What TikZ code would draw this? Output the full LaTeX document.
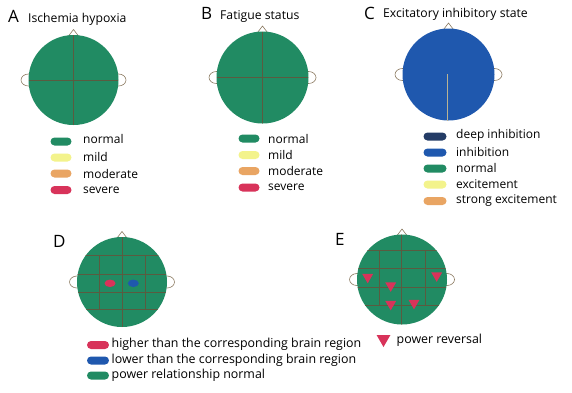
\documentclass[tikz,border=0pt]{standalone}
\usepackage{fontspec}
\setmainfont{Open Sans}
\usetikzlibrary{shapes.geometric}
\definecolor{hgreen}{HTML}{218B63}
\definecolor{hblue}{HTML}{1F58AE}
\definecolor{dblue}{HTML}{243C66}
\definecolor{lyellow}{HTML}{F3F38C}
\definecolor{orng}{HTML}{E9A563}
\definecolor{crim}{HTML}{D8335A}
\definecolor{gline}{HTML}{5A5B40}
\definecolor{outl}{HTML}{8C7B62}
\definecolor{cline}{HTML}{B9B394}
\tikzset{
  earst/.style={draw=outl, fill=white, line width=0.6pt},
  gridst/.style={draw=gline, line width=0.65pt},
  pill/.style={rectangle, rounded corners=4pt, minimum width=21pt, minimum height=8pt, inner sep=0pt},
  legtext/.style={anchor=west, inner sep=0pt, font=\fontsize{12}{14}\selectfont},
  legtextD/.style={anchor=west, inner sep=0pt, font=\fontsize{12.4}{15}\selectfont},
  letter/.style={anchor=base west, inner sep=0pt, font=\fontsize{17}{19}\selectfont},
  title/.style={anchor=base west, inner sep=0pt, font=\fontsize{12.2}{15}\selectfont},
  tri/.style={isosceles triangle, shape border rotate=-90, isosceles triangle apex angle=60, fill=crim, inner sep=0pt, minimum width=10.5pt, minimum height=9.5pt},
}
\newcommand\headbase[4]{% cx cy r colour
  \draw[earst] ({#1-#3},#2) ellipse [x radius=7.5pt, y radius=6pt];
  \draw[earst] ({#1+#3},#2) ellipse [x radius=7.5pt, y radius=6pt];
  \draw[earst] ({#1-6.5},{#2-#3+3}) -- ({#1},{#2-#3-5.5}) -- ({#1+6.5},{#2-#3+3}) -- cycle;
  \fill[#4] (#1,#2) circle [radius=#3pt];
}
\begin{document}
\begin{tikzpicture}[x=1pt,y=-1pt]
\useasboundingbox (0,0) rectangle (572,392);
\fill[white] (0,0) rectangle (572,392);

% ---------- A ----------
\node[letter] (la) at (8,22) {A};
\node[title] (ta) at (28,22) {Ischemia hypoxia};
\headbase{73.5}{80}{45}{hgreen}
\begin{scope}
  \clip (73.5,80) circle [radius=45pt];
  \draw[gridst] (73.5,35) -- (73.5,125);
  \draw[gridst] (28.5,80) -- (118.5,80);
\end{scope}
\node[pill, fill=hgreen] (a1) at (61,141.5) {};
\node[pill, fill=lyellow] (a2) at (61,157.5) {};
\node[pill, fill=orng] (a3) at (61,173.5) {};
\node[pill, fill=crim] (a4) at (61,190) {};
\node[legtext] at (83,139) {normal};
\node[legtext] at (83,157) {mild};
\node[legtext] at (83,174) {moderate};
\node[legtext] at (83,190) {severe};

% ---------- B ----------
\node[letter] (lb) at (201,19.5) {B};
\node[title] (tb) at (220,19.5) {Fatigue status};
\headbase{262.5}{77.5}{46}{hgreen}
\begin{scope}
  \clip (262.5,77.5) circle [radius=46pt];
  \draw[gridst] (262.5,31.5) -- (262.5,123.5);
  \draw[gridst] (216.5,77.5) -- (308.5,77.5);
\end{scope}
\node[pill, fill=hgreen] (b1) at (249,138.5) {};
\node[pill, fill=lyellow] (b2) at (249,155) {};
\node[pill, fill=orng] (b3) at (249,171) {};
\node[pill, fill=crim] (b4) at (249,187.5) {};
\node[legtext] at (268,138.5) {normal};
\node[legtext] at (268,155) {mild};
\node[legtext] at (268,171) {moderate};
\node[legtext] at (268,187) {severe};

% ---------- C ----------
\node[letter] (lc) at (364,19) {C};
\node[title] (tc) at (383,17) {Excitatory inhibitory state};
\headbase{448.5}{74.5}{46}{hblue}
\draw[cline, line width=0.5pt] (447,74) -- (447,120.5);
\node[pill, fill=dblue, minimum width=23pt] (c1) at (435,136.5) {};
\node[pill, fill=hblue, minimum width=23pt] (c2) at (435,152.5) {};
\node[pill, fill=hgreen, minimum width=23pt] (c3) at (435,168.5) {};
\node[pill, fill=lyellow, minimum width=23pt] (c4) at (435,184.5) {};
\node[pill, fill=orng, minimum width=23pt] (c5) at (435,201) {};
\node[legtext] at (456,135.5) {deep inhibition};
\node[legtext] at (456,152) {inhibition};
\node[legtext] at (456,168) {normal};
\node[legtext] at (456,184) {excitement};
\node[legtext] at (456,201) {strong excitement};

% ---------- D ----------
\node[letter] (ld) at (53,247) {D};
\headbase{122}{282}{45}{hgreen}
\begin{scope}
  \clip (122,282) circle [radius=45pt];
  \draw[gridst] (122,237) -- (122,327);
  \foreach \yy in {255,274,292.5,309.5} \draw[gridst] (77,\yy) -- (167,\yy);
  \draw[gridst] (99.3,255) -- (99.3,309.5);
  \draw[gridst] (145,255) -- (145,309.5);
\end{scope}
\node[ellipse, fill=crim, minimum width=11pt, minimum height=7.5pt, inner sep=0pt] (dr) at (110,283.3) {};
\node[ellipse, fill=hblue, minimum width=11pt, minimum height=7.5pt, inner sep=0pt] (db) at (133.3,283.3) {};
\node[pill, fill=crim, minimum width=22pt] (d1) at (98,345) {};
\node[pill, fill=hblue, minimum width=22pt] (d2) at (98,360.5) {};
\node[pill, fill=hgreen, minimum width=22pt] (d3) at (98,375.5) {};
\node[legtextD] at (111.5,344.5) {higher than the corresponding brain region};
\node[legtextD] at (111.5,360) {lower than the corresponding brain region};
\node[legtextD] at (111.5,375) {power relationship normal};

% ---------- E ----------
\node[letter] (le) at (335,245.5) {E};
\headbase{402}{279.5}{45}{hgreen}
\begin{scope}
  \clip (402,279.5) circle [radius=45pt];
  \draw[gridst] (401.7,234) -- (401.7,325);
  \foreach \yy in {250,268.5,287,305} \draw[gridst] (357,\yy) -- (447,\yy);
  \draw[gridst] (379.3,250) -- (379.3,305);
  \draw[gridst] (425,250) -- (425,305);
\end{scope}
\node[tri] (e1) at (367.7,277) {};
\node[tri] (e2) at (390.7,285.5) {};
\node[tri] (e3) at (390.7,304) {};
\node[tri] (e4) at (414,303) {};
\node[tri] (e5) at (436.7,275.5) {};
\node[tri, minimum width=13pt, minimum height=12pt] (et) at (383.5,339) {};
\node[legtextD] at (396.5,340) {power reversal};
\end{tikzpicture}
\end{document}
